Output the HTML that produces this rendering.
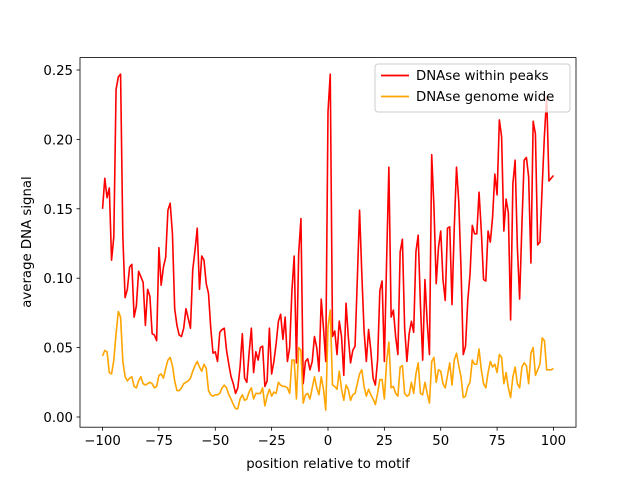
<!DOCTYPE html>
<html><head><meta charset="utf-8"><style>
html,body{margin:0;padding:0;background:#fff;}
svg{display:block;font-family:"DejaVu Sans","Liberation Sans",sans-serif;}
</style></head><body>
<svg id="chart" width="640" height="480" viewBox="0 0 640 480">
<rect x="0" y="0" width="640" height="480" fill="#fff"/>
<g id="plot"></g>
<g id="xticks"></g>
<g id="yticks"></g>
<rect x="80" y="57.6" width="496" height="369.6" fill="none" stroke="#000" stroke-width="0.8"/>
<text x="328" y="468" font-size="13.3" text-anchor="middle">position relative to motif</text>
<text transform="translate(31,242) rotate(-90)" font-size="13.3" text-anchor="middle">average DNA signal</text>
<g>
<rect x="375" y="64" width="195" height="48" rx="3" fill="#fff" fill-opacity="0.8" stroke="#ccc" stroke-width="1"/>
<line x1="381" y1="75.5" x2="409" y2="75.5" stroke="red" stroke-width="1.8"/>
<text x="416" y="80" font-size="13.3">DNAse within peaks</text>
<line x1="381" y1="96.5" x2="409" y2="96.5" stroke="orange" stroke-width="1.8"/>
<text x="416" y="101" font-size="13.3">DNAse genome wide</text>
</g>
</svg>
<script>
const xStart = -100;
const peaksValues = [0.150,0.172,0.158,0.165,0.113,0.130,0.236,0.245,0.247,0.130,
0.086,0.092,0.108,0.110,0.072,0.080,0.105,0.101,0.097,0.066,
0.092,0.087,0.060,0.059,0.055,0.122,0.095,0.108,0.115,0.149,
0.154,0.132,0.078,0.066,0.059,0.058,0.064,0.078,0.071,0.064,
0.106,0.120,0.136,0.092,0.116,0.113,0.096,0.089,0.064,0.046,
0.047,0.040,0.061,0.063,0.064,0.048,0.038,0.029,0.024,0.017,
0.021,0.036,0.060,0.028,0.025,0.046,0.064,0.032,0.047,0.041,
0.050,0.051,0.022,0.026,0.064,0.031,0.040,0.053,0.069,0.074,
0.056,0.072,0.040,0.050,0.091,0.116,0.039,0.118,0.143,0.024,
0.040,0.042,0.034,0.040,0.058,0.050,0.033,0.085,0.064,0.040,
0.220,0.247,0.058,0.062,0.045,0.069,0.058,0.030,0.082,0.058,
0.039,0.048,0.051,0.099,0.149,0.103,0.062,0.040,0.063,0.048,
0.028,0.023,0.041,0.091,0.098,0.040,0.113,0.180,0.072,0.077,
0.058,0.045,0.119,0.128,0.064,0.040,0.060,0.069,0.061,0.119,
0.131,0.081,0.041,0.099,0.068,0.045,0.189,0.151,0.096,0.122,
0.134,0.099,0.084,0.136,0.137,0.081,0.136,0.180,0.155,0.107,
0.045,0.051,0.084,0.103,0.138,0.132,0.132,0.162,0.134,0.099,
0.098,0.134,0.126,0.144,0.175,0.160,0.214,0.202,0.134,0.157,
0.147,0.070,0.168,0.185,0.122,0.085,0.138,0.185,0.187,0.173,
0.111,0.213,0.204,0.124,0.126,0.166,0.203,0.231,0.170,0.172,
0.174];
const genomeValues = [0.044,0.048,0.047,0.032,0.031,0.041,0.060,0.076,0.072,0.040,
0.029,0.026,0.028,0.029,0.022,0.021,0.026,0.029,0.024,0.023,
0.024,0.025,0.024,0.021,0.022,0.030,0.031,0.028,0.035,0.041,
0.043,0.037,0.026,0.019,0.019,0.021,0.024,0.025,0.026,0.028,
0.033,0.037,0.040,0.036,0.033,0.038,0.035,0.019,0.016,0.015,
0.016,0.016,0.017,0.021,0.023,0.021,0.016,0.013,0.009,0.006,
0.006,0.013,0.016,0.012,0.013,0.018,0.021,0.013,0.017,0.017,
0.017,0.021,0.008,0.015,0.020,0.015,0.018,0.017,0.025,0.023,
0.022,0.022,0.021,0.017,0.041,0.041,0.013,0.050,0.048,0.010,
0.016,0.017,0.013,0.021,0.029,0.021,0.016,0.029,0.020,0.005,
0.065,0.077,0.023,0.022,0.020,0.033,0.020,0.012,0.023,0.020,
0.012,0.016,0.017,0.024,0.031,0.034,0.022,0.015,0.020,0.016,
0.013,0.009,0.017,0.027,0.027,0.013,0.040,0.054,0.021,0.022,
0.017,0.015,0.036,0.037,0.017,0.015,0.016,0.025,0.017,0.031,
0.039,0.017,0.016,0.025,0.017,0.010,0.040,0.043,0.025,0.034,
0.033,0.024,0.021,0.030,0.039,0.023,0.041,0.046,0.037,0.029,
0.014,0.015,0.022,0.025,0.041,0.038,0.038,0.049,0.034,0.024,
0.021,0.032,0.040,0.036,0.038,0.032,0.045,0.043,0.024,0.032,
0.021,0.014,0.029,0.036,0.024,0.021,0.036,0.039,0.037,0.024,
0.046,0.050,0.030,0.034,0.038,0.057,0.055,0.034,0.034,0.034,
0.035];
const xTickLabels = ["−100","−75","−50","−25","0","25","50","75","100"];
const xTickValues = [-100,-75,-50,-25,0,25,50,75,100];
const yTickValues = [0,0.05,0.10,0.15,0.20,0.25];
const yTickLabels = ["0.00","0.05","0.10","0.15","0.20","0.25"];

const NS = "http://www.w3.org/2000/svg";
function xs(v){ return 80 + (v + 110) / 220 * 496; }
function ys(v){ return 417 - v * 1388; }

const plot = document.getElementById('plot');
function series(vals, color, name){
  const pts = vals.map((v,i)=> xs(xStart+i).toFixed(2)+","+ys(v).toFixed(2)).join(" ");
  const pl = document.createElementNS(NS,'polyline');
  pl.setAttribute('points', pts);
  pl.setAttribute('fill','none');
  pl.setAttribute('stroke', color);
  pl.setAttribute('stroke-width','1.6');
  pl.setAttribute('stroke-linejoin','round');
  
  
  plot.appendChild(pl);
}
series(peaksValues, 'red', 'series-within-peaks');
series(genomeValues, 'orange', 'series-genome-wide');

const xt = document.getElementById('xticks');
xTickValues.forEach((v,i)=>{
  const x = xs(v);
  const l = document.createElementNS(NS,'line');
  l.setAttribute('x1',x); l.setAttribute('x2',x);
  l.setAttribute('y1',427.2); l.setAttribute('y2',430.7);
  l.setAttribute('stroke','#000'); l.setAttribute('stroke-width','0.8');
  
  
  xt.appendChild(l);
  const t = document.createElementNS(NS,'text');
  t.setAttribute('x',x); t.setAttribute('y',445);
  t.setAttribute('font-size','13.3'); t.setAttribute('text-anchor','middle');
  t.textContent = xTickLabels[i];
  
  
  xt.appendChild(t);
});
const yt = document.getElementById('yticks');
yTickValues.forEach((v,i)=>{
  const y = ys(v);
  const l = document.createElementNS(NS,'line');
  l.setAttribute('x1',76.5); l.setAttribute('x2',80);
  l.setAttribute('y1',y); l.setAttribute('y2',y);
  l.setAttribute('stroke','#000'); l.setAttribute('stroke-width','0.8');
  
  
  yt.appendChild(l);
  const t = document.createElementNS(NS,'text');
  t.setAttribute('x',73); t.setAttribute('y',y+5);
  t.setAttribute('font-size','13.3'); t.setAttribute('text-anchor','end');
  t.textContent = yTickLabels[i];
  
  
  yt.appendChild(t);
});
</script>
</body></html>
